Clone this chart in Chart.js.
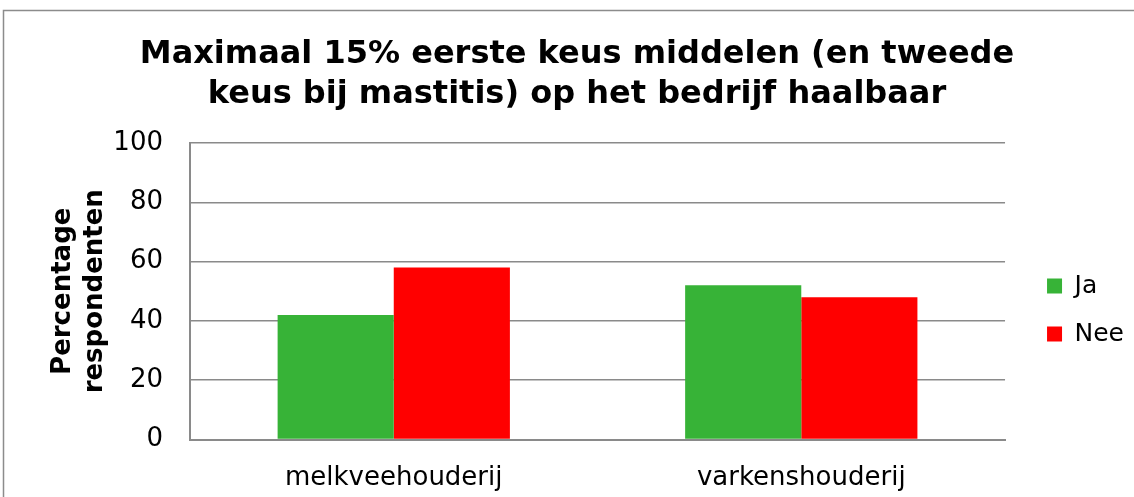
<!DOCTYPE html>
<html><head><meta charset="utf-8">
<script src="https://cdn.jsdelivr.net/npm/chart.js@4.4.1/dist/chart.umd.min.js"></script>
<style>html,body{margin:0;padding:0;background:#fff;overflow:hidden}#wrap{width:1134px;height:497px;position:relative}</style>
</head><body><div id="wrap"><canvas id="c" width="1134" height="497"></canvas></div>
<script>
const categories = ['melkveehouderij', 'varkenshouderij'];
const seriesNames = ['Ja', 'Nee'];
const jaValues = [42, 52];
const neeValues = [58, 48];
const yTicks = [0, 20, 40, 60, 80, 100];
const titleLines = ['Maximaal 15% eerste keus middelen (en tweede', 'keus bij mastitis) op het bedrijf haalbaar'];
const yTitleLines = ['Percentage', 'respondenten'];
const colors = ['#37b337', '#ff0000'];

Chart.defaults.font.family = "'DejaVu Sans', Verdana, sans-serif";
Chart.defaults.color = '#000';

const frame = {
  id: 'frame',
  beforeDraw(chart) {
    const ctx = chart.ctx;
    ctx.save();
    ctx.fillStyle = '#fff';
    ctx.fillRect(0, 0, chart.width, chart.height);
    ctx.strokeStyle = '#8c8c8c';
    ctx.lineWidth = 1.5;
    ctx.strokeRect(3.5, 10.5, 1400, 700);
    ctx.restore();
  }
};

new Chart(document.getElementById('c'), {
  type: 'bar',
  data: {
    labels: categories,
    datasets: [
      { label: seriesNames[0], data: jaValues, backgroundColor: colors[0], borderWidth: 0 },
      { label: seriesNames[1], data: neeValues, backgroundColor: colors[1], borderWidth: 0 }
    ]
  },
  options: {
    responsive: false,
    animation: false,
    devicePixelRatio: 1,
    layout: { padding: { left: 20, right: 0, top: 0, bottom: 0 } },
    datasets: { bar: { categoryPercentage: 0.57, barPercentage: 1.0 } },
    plugins: {
      tooltip: { enabled: false },
      title: {
        display: true,
        text: titleLines,
        font: { size: 32, weight: 'bold', lineHeight: 1.25 },
        padding: { top: 35, bottom: 28 }
      },
      legend: {
        position: 'right',
        align: 'center',
        title: { display: true, text: ' ', font: { size: 10, lineHeight: 1.2 }, padding: { top: 111, bottom: 0 } },
        labels: { boxWidth: 15, boxHeight: 15, padding: 23, font: { size: 25 }, color: '#000' }
      }
    },
    scales: {
      x: {
        grid: { display: false, drawTicks: false },
        border: { display: true, color: '#8a8a8a', width: 2 },
        ticks: { font: { size: 26 }, color: '#000', padding: 23, maxRotation: 0 },
        afterFit(s) { s.height = 57.5; }
      },
      y: {
        min: 0, max: 100,
        afterBuildTicks(s) { s.ticks = yTicks.map(v => ({ value: v })); },
        grid: { color: '#8a8a8a', lineWidth: 1.5, drawTicks: false },
        border: { display: true, color: '#8a8a8a', width: 2 },
        ticks: { font: { size: 26 }, color: '#000', padding: 27 },
        title: { display: true, text: yTitleLines, font: { size: 26, weight: 'bold', lineHeight: 1.23 }, padding: { top: 27, bottom: 0 } },
        afterFit(s) { s.width = 170; }
      },
      y2: {
        position: 'right',
        display: true,
        grid: { display: false, drawTicks: false },
        border: { display: false },
        ticks: { display: false },
        afterFit(s) { s.width = 19; }
      }
    }
  },
  plugins: [frame]
});
</script>
</body></html>
